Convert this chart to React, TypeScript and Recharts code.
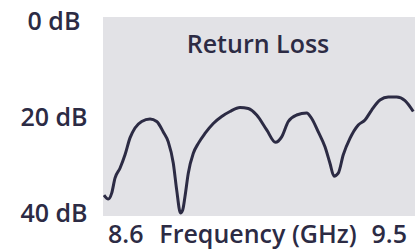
import { LineChart, Line, XAxis, YAxis, ReferenceArea } from "recharts";

// frequency in GHz
const freqs = [
  8.6029, 8.6153, 8.6251, 8.6346, 8.649, 8.6635, 8.6779, 8.6923, 8.7116, 8.7356,
  8.7549, 8.7739, 8.7883, 8.8028, 8.8126, 8.8235, 8.8299, 8.8365, 8.846, 8.8605,
  8.8749, 8.8942, 8.9181, 8.9424, 8.9663, 8.9952, 9.0191, 9.0433, 9.0722, 9.0975,
  9.1154, 9.1345, 9.1587, 9.1875, 9.202, 9.221, 9.2403, 9.2547, 9.2663, 9.2787,
  9.2931, 9.3124, 9.3364, 9.3557, 9.375, 9.399, 9.4229, 9.4471, 9.4711, 9.495,
];

// return loss in dB (down is more loss)
const returnLoss = [
  35.8, 36.6, 35.4, 32.4, 30.4, 27.7, 24.3, 22.3, 21.0, 20.5,
  21.0, 23.1, 25.1, 29.4, 34.8, 39.4, 38.8, 36.1, 31.4, 27.4,
  25.4, 23.4, 21.4, 20.0, 19.0, 18.2, 18.4, 19.7, 22.7, 25.2,
  24.1, 21.0, 19.7, 19.3, 20.4, 23.1, 26.1, 29.4, 32.0, 31.4,
  27.7, 24.4, 21.7, 20.7, 18.7, 16.7, 16.1, 16.1, 16.8, 19.0,
];

const xTicks = [8.6, 9.5];
const yTicks = [0, 20, 40];
const title = "Return Loss";
const xLabel = "Frequency (GHz)";

const data = freqs.map((f, i) => ({ f, rl: returnLoss[i] }));

const INK = "#2c2b44";
const FONT = "'Open Sans', 'Noto Sans', sans-serif";
const WEIGHT = 600;

const XTick = (props: any) => {
  const { x, y, payload, index } = props;
  const first = index === 0;
  return (
    <text
      x={x + (first ? 5 : -8)}
      y={y + 27}
      textAnchor={first ? "start" : "end"}
      fill={INK}
      fontSize={25}
      fontFamily={FONT}
      fontWeight={WEIGHT}
    >
      {payload.value}
    </text>
  );
};

const YTick = (props: any) => {
  const { y, payload, index } = props;
  const shift = index === 0 ? 4 : index === yTicks.length - 1 ? -3 : 0;
  return (
    <text
      x={54}
      y={y + shift + 9}
      textAnchor="middle"
      fill={INK}
      fontSize={25}
      fontFamily={FONT}
      fontWeight={WEIGHT}
    >
      {`${payload.value} dB`}
    </text>
  );
};

const AxisTitle = (props: any) => {
  const vb = props.viewBox;
  return (
    <text
      x={vb.x + vb.width / 2 - 1}
      y={vb.y + 27}
      textAnchor="middle"
      fill={INK}
      fontSize={25}
      fontFamily={FONT}
      fontWeight={WEIGHT}
    >
      {xLabel}
    </text>
  );
};

const PlotTitle = (props: any) => {
  const vb = props.viewBox;
  return (
    <text
      x={vb.x + vb.width / 2 - 1}
      y={vb.y + 36}
      textAnchor="middle"
      fill={INK}
      fontSize={25}
      fontFamily={FONT}
      fontWeight={WEIGHT}
    >
      {title}
    </text>
  );
};

export default function App() {
  return (
    <div style={{ position: "absolute", left: 0, top: 0, background: "#fff" }}>
      <LineChart
        width={420}
        height={250}
        data={data}
        margin={{ top: 17, right: 5, bottom: 0, left: 0 }}
      >
        <ReferenceArea
          x1={8.6}
          x2={9.5}
          y1={0}
          y2={40}
          fill="#e2e2e6"
          fillOpacity={1}
          stroke="none"
          ifOverflow="visible"
          label={<PlotTitle />}
        />
        <XAxis
          dataKey="f"
          type="number"
          domain={[8.6, 9.5]}
          ticks={xTicks}
          axisLine={false}
          tickLine={false}
          tickSize={0}
          tickMargin={0}
          height={34}
          tick={<XTick />}
          label={<AxisTitle />}
          interval={0}
        />
        <YAxis
          type="number"
          domain={[0, 40]}
          reversed
          ticks={yTicks}
          axisLine={false}
          tickLine={false}
          tickSize={0}
          tickMargin={0}
          width={103}
          tick={<YTick />}
          interval={0}
        />
        <Line
          type="monotone"
          dataKey="rl"
          stroke={INK}
          strokeWidth={3}
          dot={false}
          isAnimationActive={false}
        />
      </LineChart>
    </div>
  );
}
